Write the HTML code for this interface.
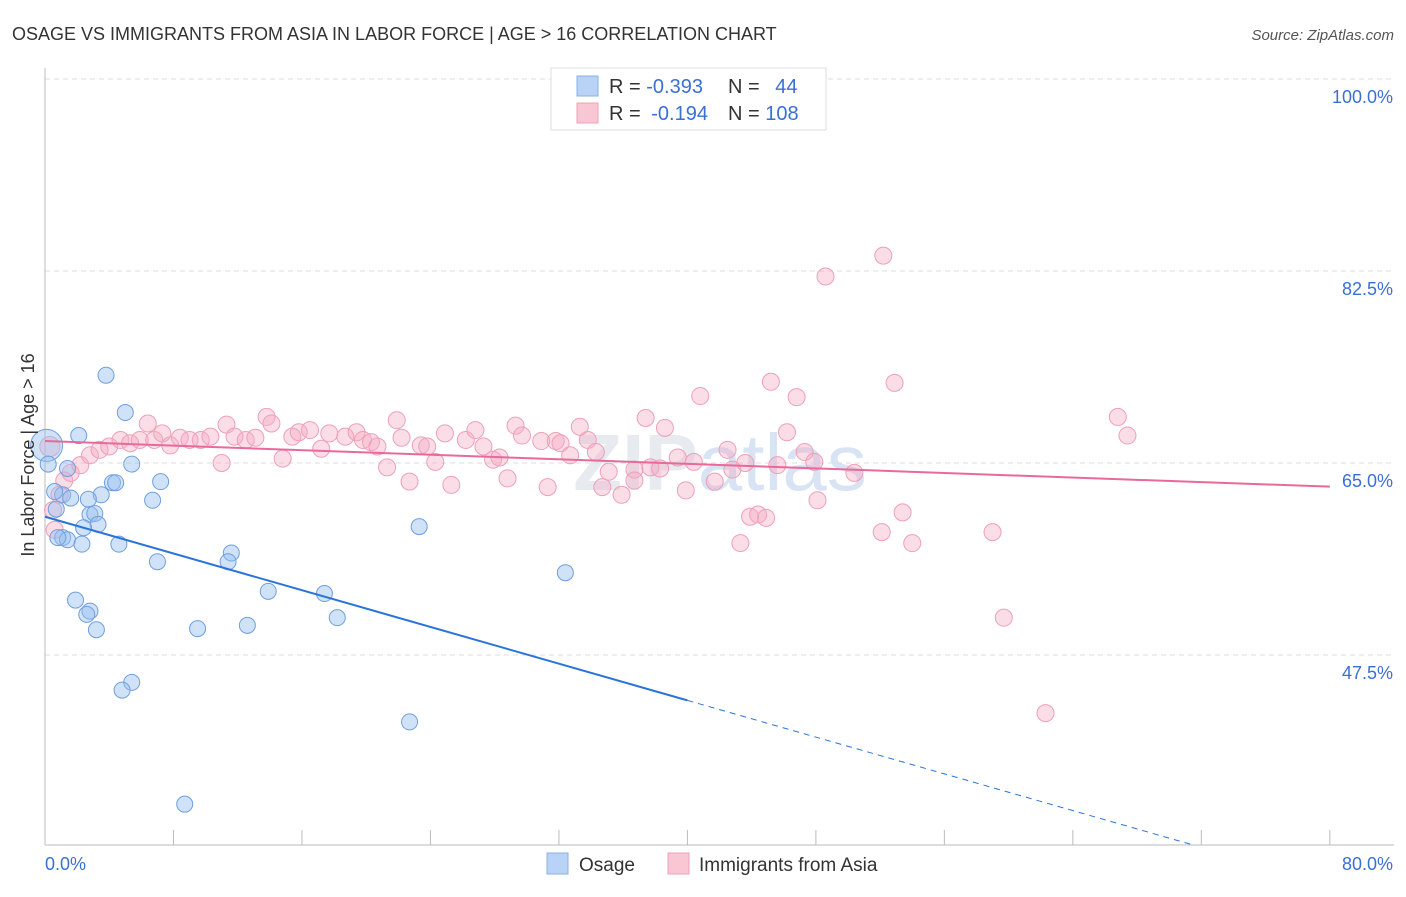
<!DOCTYPE html>
<html><head><meta charset="utf-8"><style>
body{margin:0;background:#fff;font-family:"Liberation Sans",sans-serif;}
svg text{font-family:"Liberation Sans",sans-serif;}
</style></head><body>
<svg id="chart" width="1406" height="892" xmlns="http://www.w3.org/2000/svg">
<text x="12" y="40" font-size="18" fill="#333">OSAGE VS IMMIGRANTS FROM ASIA IN LABOR FORCE | AGE &gt; 16 CORRELATION CHART</text>
<text x="1394" y="40" font-size="15" fill="#555" font-style="italic" text-anchor="end">Source: ZipAtlas.com</text>
<text x="720" y="490" font-size="80" font-weight="bold" fill="#dde3ea" text-anchor="middle" opacity="0.7">ZIP<tspan fill="#c8d8ee" font-weight="normal">atlas</tspan></text>
<g id="grid"></g><g id="marks"></g>
<text transform="translate(34,455) rotate(-90)" font-size="18" fill="#333" text-anchor="middle">In Labor Force | Age &gt; 16</text>
<g>
<rect x="551" y="68" width="275" height="62" fill="#fff" stroke="#ddd"/>
<rect x="577" y="76" width="21" height="20" fill="#b8d3f5" stroke="#8ab0e6"/>
<rect x="577" y="103" width="21" height="20" fill="#f9c6d4" stroke="#eea0b8"/>
<text x="609" y="93" font-size="20" fill="#333">R = <tspan fill="#3a70d4">-0.393</tspan></text>
<text x="728" y="93" font-size="20" fill="#333">N = <tspan fill="#3a70d4" dx="10">44</tspan></text>
<text x="609" y="120" font-size="20" fill="#333">R = <tspan fill="#3a70d4" dx="5">-0.194</tspan></text>
<text x="728" y="120" font-size="20" fill="#333">N = <tspan fill="#3a70d4">108</tspan></text>
</g>
<g>
<rect x="547" y="853" width="21" height="21" fill="#b8d3f5" stroke="#8ab0e6"/>
<text x="579" y="871" font-size="19" fill="#333">Osage</text>
<rect x="668" y="853" width="21" height="21" fill="#f9c6d4" stroke="#eea0b8"/>
<text x="699" y="871" font-size="19" fill="#333">Immigrants from Asia</text>
</g>
</svg>
<script>
const yTicks=[100,82.5,65,47.5];
const yTickLabels=["100.0%","82.5%","65.0%","47.5%"];
const osageX=[0.1,0.2,1.4,2.1,3.8,5.0,5.4,4.2,4.4,7.2,6.7,3.5,2.7,1.1,0.6,1.6,0.7,2.8,3.1,3.3,2.4,1.1,1.4,2.3,4.6,11.6,11.4,7.0,23.3,32.4,1.9,2.8,2.6,3.2,9.5,12.6,13.9,17.4,18.2,5.4,4.8,22.7,8.7,0.8];
const osageY=[66.6,64.9,64.5,67.5,73.0,69.6,64.9,63.2,63.2,63.3,61.6,62.1,61.7,62.1,62.4,61.8,60.8,60.3,60.4,59.4,59.1,58.2,58.0,57.6,57.6,56.8,56.0,56.0,59.2,55.0,52.5,51.5,51.2,49.8,49.9,50.2,53.3,53.1,50.9,45.0,44.3,41.4,33.9,58.2];
const asiaX=[0.3,0.5,0.6,0.9,1.2,1.6,2.2,2.8,3.4,4.0,4.7,5.3,5.9,6.4,6.8,7.3,7.8,8.4,9.0,9.7,10.3,11.0,11.3,11.8,12.5,13.1,13.8,14.1,14.8,15.4,15.8,16.5,17.2,17.7,18.7,19.4,19.8,20.3,20.7,21.3,21.9,22.2,22.7,23.4,23.8,24.3,24.9,25.3,26.2,26.8,27.3,27.9,28.3,28.8,29.3,29.7,30.9,31.3,31.8,32.1,32.7,33.3,33.8,34.3,34.7,35.1,35.9,36.7,36.7,37.4,37.7,38.3,38.6,39.4,39.9,40.4,40.8,41.7,42.5,42.8,43.3,43.6,43.9,44.4,44.9,45.2,45.6,46.2,46.8,47.3,47.9,48.1,48.6,50.4,52.1,52.2,52.9,53.4,54.0,59.0,59.7,62.3,66.8,67.4];
const asiaY=[66.5,60.7,58.9,62.1,63.4,64.1,64.8,65.7,66.2,66.5,67.1,66.8,67.1,68.6,67.1,67.7,66.6,67.3,67.1,67.1,67.4,65.0,68.5,67.4,67.1,67.3,69.2,68.6,65.4,67.4,67.8,68.0,66.3,67.7,67.4,67.8,67.1,66.9,66.5,64.6,68.9,67.3,63.3,66.6,66.5,65.1,67.7,63.0,67.1,68.0,66.5,65.3,65.5,63.6,68.4,67.5,67.0,62.8,67.0,66.8,65.7,68.3,67.1,66.0,62.8,64.2,62.1,64.4,63.4,69.1,64.6,64.5,68.2,65.5,62.5,65.1,71.1,63.3,66.2,64.4,57.7,65.0,60.1,60.3,60.0,72.4,64.8,67.8,71.0,66.0,65.1,61.6,82.0,64.1,58.7,83.9,72.3,60.5,57.7,58.7,50.9,42.2,69.2,67.5];
const X=v=>45+v*16.06, Y=v=>79+(100-v)*10.971;
const NS="http://www.w3.org/2000/svg";
const svg=document.getElementById('chart'),grid=document.getElementById('grid'),marks=document.getElementById('marks');
function mk(tag,attrs,parent){const e=document.createElementNS(NS,tag);for(const k in attrs)e.setAttribute(k,attrs[k]);parent.appendChild(e);return e;}
yTicks.forEach((t,i)=>{
 const l=mk('line',{x1:45,x2:1394,y1:Y(t),y2:Y(t),stroke:'#ddd','stroke-dasharray':'5,4'},grid);
 
 
 const tx=mk('text',{x:1393,y:Y(t)+24,'font-size':18,fill:'#3a70d4','text-anchor':'end'},grid);
 tx.textContent=yTickLabels[i];
 
 
});
const ax=mk('line',{x1:45,x2:1394,y1:845,y2:845,stroke:'#bbb'},grid);


const ay=mk('line',{x1:45,x2:45,y1:68,y2:845,stroke:'#bbb'},grid);


for(let i=0;i<=10;i++){const t=mk('line',{x1:X(i*8),x2:X(i*8),y1:830,y2:845,stroke:'#bbb'},grid);
 
 }
[[0,"0.0%","start",45],[80,"80.0%","end",1393]].forEach(d=>{const t=mk('text',{x:d[3],y:870,'font-size':18,fill:'#3a70d4','text-anchor':d[2]},grid);t.textContent=d[1];
 
 });
asiaX.forEach((x,i)=>{const c=mk('circle',{cx:X(x),cy:Y(asiaY[i]),r:i==0?10:8.5,fill:'rgba(246,170,195,0.4)',stroke:'#eea0b8','stroke-width':1},marks);
 
 });
osageX.forEach((x,i)=>{const c=mk('circle',{cx:X(x),cy:Y(osageY[i]),r:i==0?16:8,fill:'rgba(150,190,240,0.45)',stroke:'#6f9fdf','stroke-width':1},marks);
 
 });
const [pa,pb]=[67.0,-0.052];
const pl=mk('line',{x1:X(0),y1:Y(pa),x2:X(80),y2:Y(pa+pb*80),stroke:'#e8699a','stroke-width':2},marks);


const [oa,ob]=[60.1,-0.4185];
const ol=mk('line',{x1:X(0),y1:Y(oa),x2:X(40),y2:Y(oa+ob*40),stroke:'#2b74d8','stroke-width':2},marks);


const od=mk('line',{x1:X(40),y1:Y(oa+ob*40),x2:X(71.6),y2:Y(oa+ob*71.6),stroke:'#2b74d8','stroke-width':1,'stroke-dasharray':'6,5'},marks);


</script>
</body></html>
